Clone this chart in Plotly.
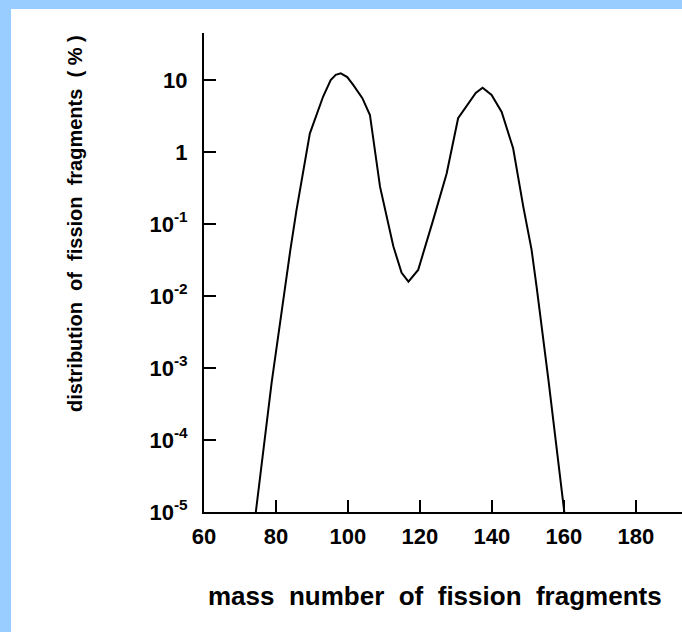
import plotly.graph_objects as go

# Data (mass number, distribution in %)
mass = [74.4, 78.8, 84.0, 85.7, 89.4, 91.5, 93.1, 95.2, 96.6, 98.0, 99.8, 101.5,
        104.0, 106.1, 108.9, 112.6, 114.9, 116.8, 119.5, 123.7, 127.4, 130.6,
        133.0, 135.5, 137.4, 139.9, 142.7, 145.9, 148.7, 151.0, 152.4, 155.7, 160.1]
dist = [1e-5, 6.3e-4, 0.044, 0.156, 1.8, 3.6, 5.9, 10.0, 11.8, 12.4, 11.0, 8.5,
        5.6, 3.27, 0.33, 0.049, 0.021, 0.0158, 0.023, 0.115, 0.5, 2.95,
        4.47, 6.6, 7.8, 6.2, 3.6, 1.12, 0.174, 0.044, 0.0135, 6.8e-4, 1e-5]

x_ticks = [60, 80, 100, 120, 140, 160, 180]
y_ticks = [1e1, 1e0, 1e-1, 1e-2, 1e-3, 1e-4, 1e-5]
y_tick_text = ["10", "1", "10<sup>-1</sup>", "10<sup>-2</sup>", "10<sup>-3</sup>",
               "10<sup>-4</sup>", "10<sup>-5</sup>"]

x_title = "mass\u00a0\u00a0number\u00a0\u00a0of\u00a0\u00a0fission\u00a0\u00a0fragments"
y_title = "distribution\u00a0\u00a0of\u00a0\u00a0fission\u00a0\u00a0fragments\u00a0\u00a0(\u00a0%\u00a0)"

W, H = 682, 632
L, R, T, B = 204, 0, 33, 120
pw, ph = W - L - R, H - T - B


def px(xp):
    return (xp - L) / pw


def py(yp):
    return (H - B - yp) / ph


FONT = "Liberation Sans, Arial, sans-serif"
BLUE = "#99CCFF"

fig = go.Figure()
fig.add_trace(go.Scatter(x=mass, y=dist, mode="lines",
                         line=dict(color="black", width=2), hoverinfo="skip",
                         showlegend=False))

fig.update_layout(
    width=W, height=H, autosize=False,
    margin=dict(l=L, r=R, t=T, b=B, pad=0),
    paper_bgcolor="white", plot_bgcolor="white",
    showlegend=False,
    xaxis=dict(range=[60, 192.8], showline=True, linecolor="black", linewidth=2,
               ticks="inside", ticklen=12, tickwidth=2, tickcolor="black",
               tickvals=x_ticks, showgrid=False, zeroline=False,
               tickfont=dict(family=FONT, size=22, color="black", weight="bold"),
               ticklabelstandoff=4),
    yaxis=dict(type="log", range=[-5, 1.653], showline=True, linecolor="black",
               linewidth=2, ticks="inside", ticklen=12, tickwidth=2,
               tickcolor="black", tickvals=y_ticks, ticktext=y_tick_text,
               showgrid=False, zeroline=False,
               tickfont=dict(family=FONT, size=22, color="black", weight="bold"),
               ticklabelstandoff=10),
    shapes=[
        dict(type="rect", xref="paper", yref="paper", x0=px(0), x1=px(W),
             y0=py(0), y1=py(9), fillcolor=BLUE, line=dict(width=0), layer="above"),
        dict(type="rect", xref="paper", yref="paper", x0=px(0), x1=px(11),
             y0=py(0), y1=py(H), fillcolor=BLUE, line=dict(width=0), layer="above"),
    ],
    annotations=[
        dict(text=x_title, xref="paper", yref="paper", x=px(435), y=py(596),
             xanchor="center", yanchor="middle", showarrow=False,
             font=dict(family=FONT, size=26, color="black", weight="bold")),
        dict(text=y_title, xref="paper", yref="paper", x=px(75), y=py(224),
             xanchor="center", yanchor="middle", showarrow=False, textangle=-90,
             font=dict(family=FONT, size=20, color="black", weight="bold")),
    ],
)

fig.write_html(
    "out.html",
    config={"displayModeBar": False},
    post_script="document.body.style.margin='0';document.body.style.padding='0';",
)
